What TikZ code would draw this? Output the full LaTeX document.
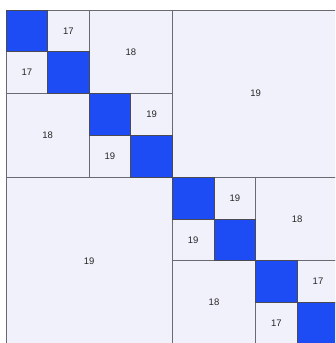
\documentclass[tikz,border=0pt]{standalone}
\usepackage{fontspec}
\setmainfont{Liberation Sans}
\definecolor{lightc}{HTML}{F1F1FC}
\definecolor{bluec}{HTML}{1E4CF4}
\definecolor{edgec}{HTML}{6A6A72}
\begin{document}
\begin{tikzpicture}[x=1pt,y=-1pt,
  cellbox/.style={draw=edgec,line width=0.9pt,fill=lightc},
  diagbox/.style={draw=edgec!70!black,line width=0.9pt,fill=bluec},
  lab/.style={font=\fontsize{9.5}{11}\selectfont,text=black!85}]
\useasboundingbox (0,0) rectangle (335,343);
\clip (0,0) rectangle (335,343);
\fill[white] (0,0) rectangle (335,343);
\def\cw{41.6}\def\ch{41.8}\def\xo{6}\def\yo{10}
% block: row, col, rows, cols, label
\newcommand{\blk}[5]{%
  \draw[cellbox] ({\xo+#2*\cw},{\yo+#1*\ch}) rectangle ({\xo+(#2+#4)*\cw},{\yo+(#1+#3)*\ch});
  \node[lab] (b#1#2) at ({\xo+(#2+#4/2)*\cw},{\yo+(#1+#3/2)*\ch}) {#5};}
\blk{0}{1}{1}{1}{17}
\blk{1}{0}{1}{1}{17}
\blk{0}{2}{2}{2}{18}
\blk{2}{0}{2}{2}{18}
\blk{2}{3}{1}{1}{19}
\blk{3}{2}{1}{1}{19}
\blk{0}{4}{4}{4}{19}
\blk{4}{0}{4}{4}{19}
\blk{4}{5}{1}{1}{19}
\blk{5}{4}{1}{1}{19}
\blk{4}{6}{2}{2}{18}
\blk{6}{4}{2}{2}{18}
\blk{6}{7}{1}{1}{17}
\blk{7}{6}{1}{1}{17}
\foreach \i in {0,...,7}{
  \draw[diagbox] ({\xo+\i*\cw},{\yo+\i*\ch}) rectangle ({\xo+(\i+1)*\cw},{\yo+(\i+1)*\ch});
}
\end{tikzpicture}
\end{document}
